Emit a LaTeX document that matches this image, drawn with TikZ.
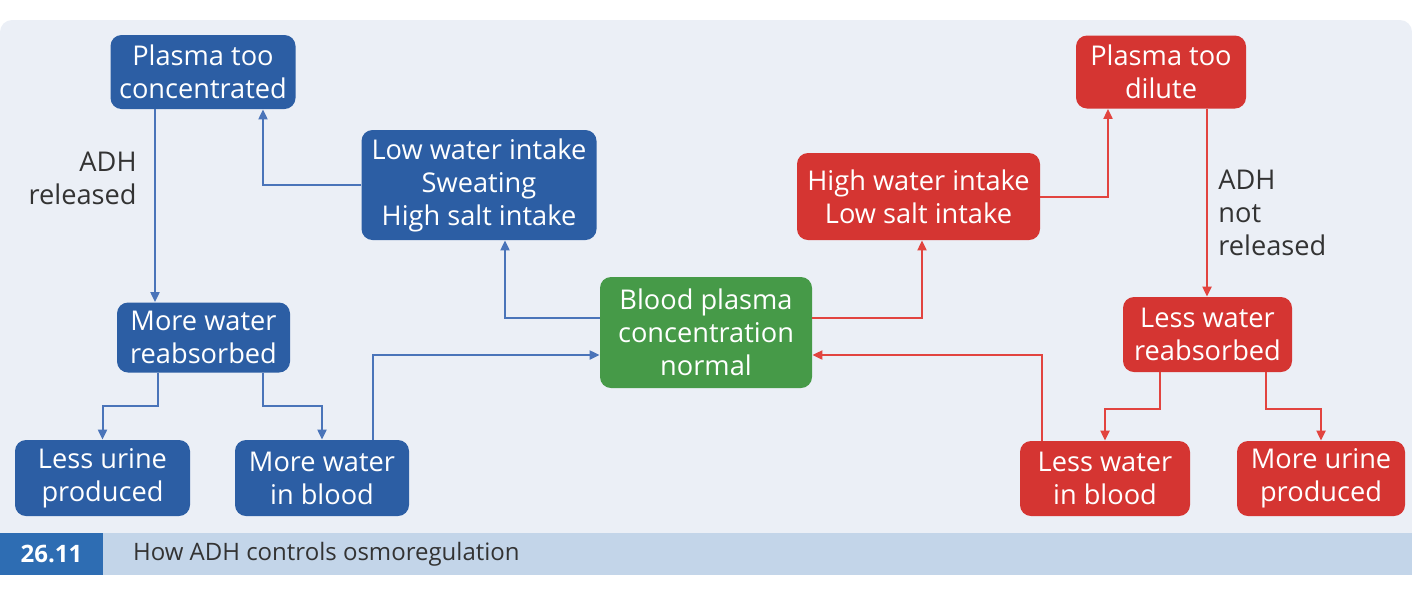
\documentclass[tikz,border=0pt]{standalone}
\usepackage{fontspec}
\setmainfont{Open Sans}
\usetikzlibrary{arrows.meta}
\definecolor{panel}{HTML}{EBEFF6}
\definecolor{capbar}{HTML}{C3D5E9}
\definecolor{capnum}{HTML}{2E6DB3}
\definecolor{bfill}{HTML}{2C5EA4}
\definecolor{bline}{HTML}{4A74B9}
\definecolor{rfill}{HTML}{D53532}
\definecolor{rline}{HTML}{E2443F}
\definecolor{gfill}{HTML}{469A48}
\definecolor{lbl}{HTML}{333333}
\tikzset{
  box/.style={rounded corners=5.5pt, inner sep=0pt, align=center, text=white,
    font=\fontsize{13.6}{16.5}\selectfont},
  bbox/.style={box, fill=bfill},
  rbox/.style={box, fill=rfill},
  gbox/.style={box, fill=gfill},
  bl/.style={draw=bline, line width=1pt, -{Triangle[length=5pt,width=4.5pt]}},
  rl/.style={draw=rline, line width=1pt, -{Triangle[length=5pt,width=4.5pt]}},
  elabel/.style={text=lbl, font=\fontsize{13.6}{16.5}\selectfont, inner sep=0pt}
}
\begin{document}
\begin{tikzpicture}[x=0.5pt,y=-0.5pt]
\useasboundingbox (0,0) rectangle (1412,601);
% panel
\fill[panel, rounded corners=6pt] (0,20) rectangle (1412,545);
\fill[capbar] (0,533) rectangle (1412,575);
\fill[capnum] (0,533) rectangle (103,575);
\node[text=white, font=\fontsize{12}{14}\selectfont\bfseries] (num) at (51.5,554) {26.11};
\node[anchor=west, text=lbl, font=\fontsize{12}{14}\selectfont] (cap) at (126,554) {How ADH controls osmoregulation};
% nodes
\node[bbox, minimum width=92.5pt, minimum height=37pt] (pc) at (203,72) {Plasma too\\concentrated};
\node[bbox, minimum width=117.5pt, minimum height=55pt] (lw) at (479,185) {Low water intake\\Sweating\\High salt intake};
\node[bbox, minimum width=86.5pt, minimum height=35pt] (mr) at (203.5,337.5) {More water\\reabsorbed};
\node[bbox, minimum width=87.5pt, minimum height=38pt] (lu) at (102.5,478) {Less urine\\produced};
\node[bbox, minimum width=87pt, minimum height=38pt] (mb) at (322,478) {More water\\in blood};
\node[gbox, minimum width=106pt, minimum height=55.5pt] (gn) at (706,332.5) {Blood plasma\\concentration\\normal};
\node[rbox, minimum width=121.5pt, minimum height=43.5pt] (hw) at (918.5,196.5) {High water intake\\Low salt intake};
\node[rbox, minimum width=85pt, minimum height=36.5pt] (pd) at (1161,72) {Plasma too\\dilute};
\node[rbox, minimum width=84.5pt, minimum height=37.5pt] (lr) at (1207.5,334.5) {Less water\\reabsorbed};
\node[rbox, minimum width=85pt, minimum height=37.5pt] (lb) at (1105,478.5) {Less water\\in blood};
\node[rbox, minimum width=84pt, minimum height=37.5pt] (mu) at (1321,478.5) {More urine\\produced};
% labels
\node[elabel, align=right, anchor=east] (adh1) at (137,178) {ADH\\released};
\node[elabel, align=left, anchor=west] (adh2) at (1218,213) {ADH\\not\\released};
% blue connectors
\draw[bl] (lw.west) -| (263,0 |- pc.south);
\draw[bl] (155,0 |- pc.south) -- (155,0 |- mr.north);
\draw[bl] (158,0 |- mr.south) -- (158,406) -| (lu.north);
\draw[bl] (263,0 |- mr.south) -- (263,406) -| (mb.north);
\draw[bl] (373,0 |- mb.north) |- (gn.west |- 0,355);
\draw[bl] (gn.west |- 0,318) -| (505,0 |- lw.south);
% red connectors
\draw[rl] (gn.east |- 0,318) -| (922,0 |- hw.south);
\draw[rl] (hw.east) -| (1108,0 |- pd.south);
\draw[rl] (1207,0 |- pd.south) -- (1207,0 |- lr.north);
\draw[rl] (1160,0 |- lr.south) -- (1160,409) -| (lb.north);
\draw[rl] (1266,0 |- lr.south) -- (1266,409) -| (mu.north);
\draw[rl] (1042,0 |- lb.north) |- (gn.east |- 0,355);
\end{tikzpicture}
\end{document}
